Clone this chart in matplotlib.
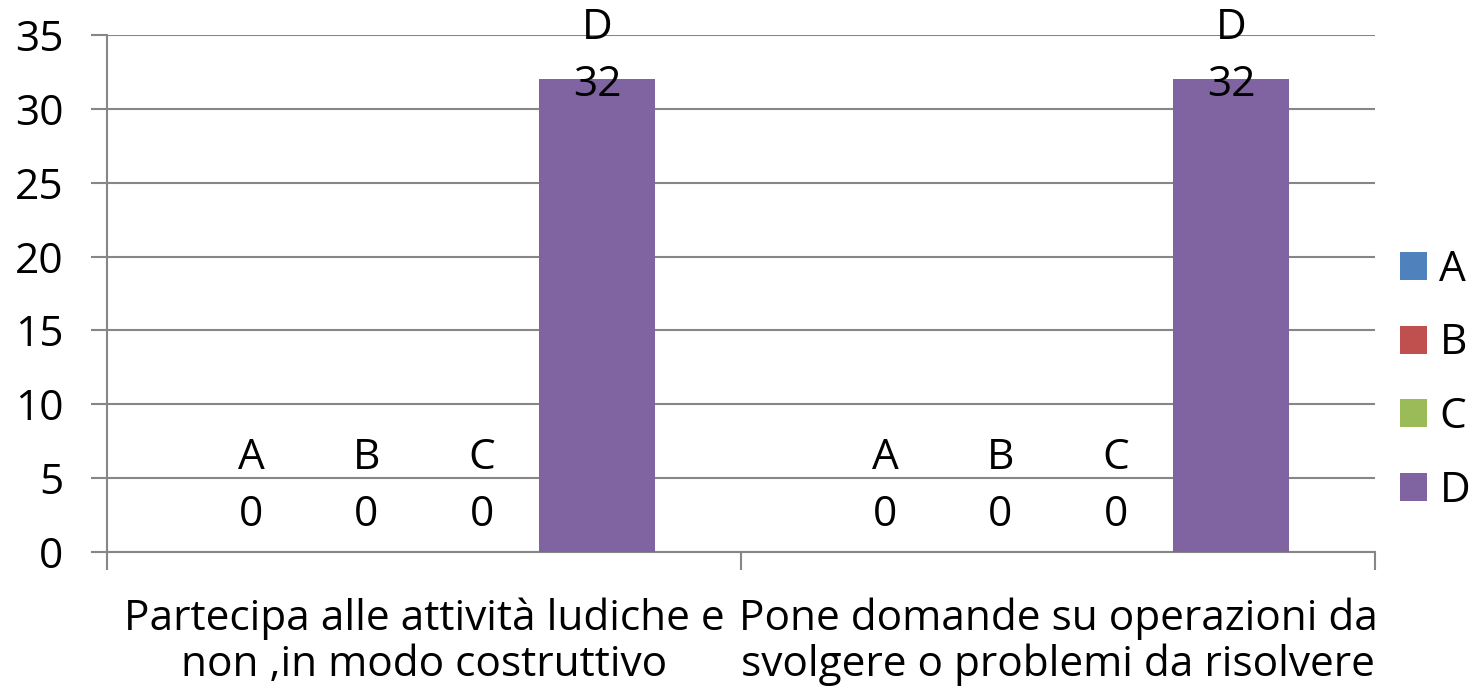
import matplotlib
matplotlib.use("Agg")
import matplotlib.pyplot as plt
import numpy as np

categories = ["Partecipa alle attività ludiche e\nnon ,in modo costruttivo",
              "Pone domande su operazioni da\nsvolgere o problemi da risolvere"]
series = ["A", "B", "C", "D"]
values = {"A": [0, 0], "B": [0, 0], "C": [0, 0], "D": [32, 32]}
colors = {"A": "#4F81BD", "B": "#C0504D", "C": "#9BBB59", "D": "#8064A2"}
yticks = [0, 5, 10, 15, 20, 25, 30, 35]

plt.rcParams['font.family'] = ['Open Sans', 'DejaVu Sans']
FS = 30.5

fig = plt.figure(figsize=(14.82, 6.96), dpi=100)
ax = fig.add_axes([107/1482, 144/696, 1268/1482, 517/696])

x = np.arange(len(categories))
w = 0.182
gcol = "#868686"
for i, s in enumerate(series):
    xs = x + (i - 1.5) * w
    ax.bar(xs, values[s], width=w, color=colors[s], label=s, zorder=3)
    for xi, v in zip(xs, values[s]):
        ax.text(xi, min(v + 2.5, 31.6), f"{v}", ha="center", va="center",
                fontsize=FS, zorder=4)
        ax.text(xi, min(v + 6.36, 35.5), s, ha="center", va="center",
                fontsize=FS, zorder=4, clip_on=False)

ax.set_xlim(-0.5, 1.5)
ax.set_ylim(0, 35)
ax.set_yticks(yticks)
ax.yaxis.grid(True, color=gcol, linewidth=1.5, zorder=0)
ax.tick_params(axis="y", length=11.5, width=1.5, color=gcol, labelsize=FS, pad=20)
ax.set_xticks([-0.5, 0.5, 1.5], minor=True)
ax.set_xticks(x)
ax.set_xticklabels(categories, fontsize=FS, linespacing=1.1)
ax.tick_params(axis="x", which="major", length=0, pad=33)
ax.tick_params(axis="x", which="minor", length=13, width=1.5, color=gcol)
for sp in ["top", "right"]:
    ax.spines[sp].set_visible(False)
for sp in ["left", "bottom"]:
    ax.spines[sp].set_color(gcol)
    ax.spines[sp].set_linewidth(1.5)

ax.legend(loc="center left", bbox_to_anchor=(1.0, 0.332), frameon=False,
          fontsize=FS, handlelength=0.64, handleheight=0.64, labelspacing=0.75,
          handletextpad=0.3, borderaxespad=0.18)

fig.savefig("out.png", dpi=100)
